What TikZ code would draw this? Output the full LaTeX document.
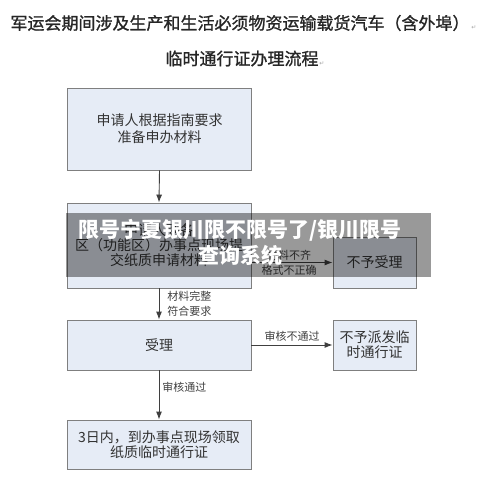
\documentclass[tikz,border=0pt]{standalone}
\usepackage{fontspec}
\setmainfont{Noto Sans CJK SC}
\newfontfamily\titlefont[FakeBold=1.2]{Noto Sans CJK SC}
\newfontfamily\symfont{DejaVu Sans}
\usetikzlibrary{arrows.meta}
\definecolor{boxfill}{HTML}{E6ECF6}
\definecolor{boxline}{HTML}{7F7F7F}
\definecolor{flowline}{HTML}{3F3F3F}

\begin{document}
\begin{tikzpicture}[x=1pt,y=-1pt,
    flowbox/.style={draw=boxline, fill=boxfill, line width=0.9pt, text=black!80,
      font=\fontsize{14}{15}\selectfont, align=center, inner sep=0pt},
    flowarrow/.style={draw=flowline, line width=0.9pt, -{Latex[length=8pt,width=6pt]}},
    steplabel/.style={font=\fontsize{11}{15}\selectfont, text=black!75, align=left, inner sep=2pt},
    heading/.style={font=\titlefont\fontsize{17}{20}\selectfont, text=black!85}]
  \useasboundingbox (0,0) rectangle (500,492);
  \fill[white] (0,0) rectangle (500,492);

  \node[heading] (title) at (240,23) {军运会期间涉及生产和生活必须物资运输载货汽车（含外埠）};
  \node[heading] (subtitle) at (242,58.5) {临时通行证办理流程};
  \node[font=\symfont\fontsize{6}{7}\selectfont, text=black!35, inner sep=0pt] (mark1) at (474,28) {↵};
  \node[font=\symfont\fontsize{6}{7}\selectfont, text=black!35, inner sep=0pt] (mark2) at (322,64) {↵};

  \node[flowbox, minimum width=184pt, minimum height=82pt] (prepare) at (159.5,129) {申请人根据指南要求\\[2pt]准备申办材料};
  \node[flowbox, minimum width=184pt, minimum height=85pt] (submit) at (159,245.5) {申请人到各\\区（功能区）办事点现场提\\交纸质申请材料};
  \node[flowbox, minimum width=184pt, minimum height=50pt] (accept) at (159,345) {受理};
  \node[flowbox, minimum width=184pt, minimum height=49pt] (collect) at (159,444.5) {3日内，到办事点现场领取\\纸质临时通行证};
  \node[flowbox, minimum width=83pt, minimum height=51pt] (reject) at (374.5,262.5) {不予受理};
  \node[flowbox, minimum width=83pt, minimum height=50pt] (refuse) at (374.5,345) {不予派发临\\时通行证};

  \draw[flowarrow] (prepare.south) -- (submit.north);
  \draw[flowarrow] (submit.east |- reject.west) -- (reject.west)
    node[steplabel, midway, above, xshift=-3pt] {材料不齐}
    node[steplabel, midway, below, xshift=-3pt] {格式不正确};
  \draw[flowarrow] (submit.south) -- (accept.north)
    node[steplabel, midway, right, xshift=6pt] {材料完整\\符合要求};
  \draw[flowarrow] (accept.east) -- (refuse.west)
    node[steplabel, midway, above, yshift=1pt] {审核不通过};
  \draw[flowarrow] (accept.south) -- (collect.north)
    node[steplabel, pos=0.34, right, xshift=1pt] {审核通过};

  \fill[black, opacity=0.4] (66,213) rectangle (431,277);
  \node[text=white, font=\bfseries\fontsize{21}{26}\selectfont, align=center] (banner) at (240,243) {限号宁夏银川限不限号了/银川限号\\查询系统};
\end{tikzpicture}
\end{document}
